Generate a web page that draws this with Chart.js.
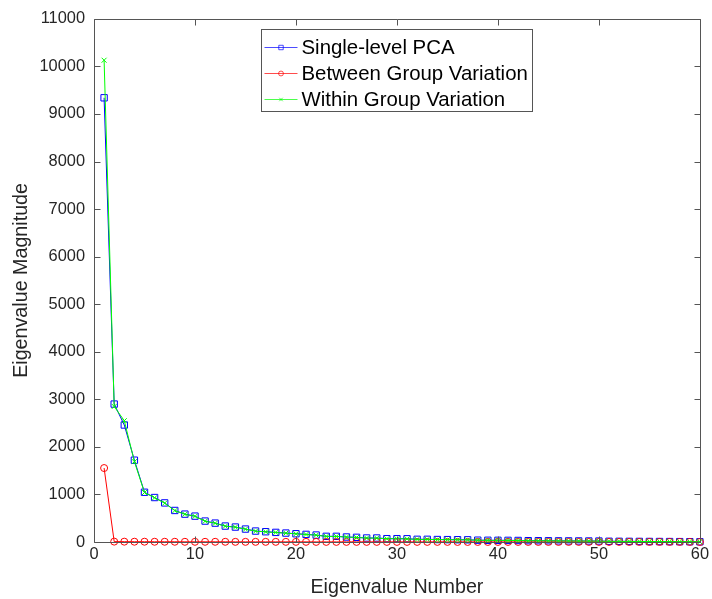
<!DOCTYPE html>
<html>
<head>
<meta charset="utf-8">
<script src="https://cdn.jsdelivr.net/npm/chart.js@4.4.0/dist/chart.umd.min.js"></script>
<style>
    html, body { margin: 0; padding: 0; background: #fff; }
</style>
</head>
<body>
<canvas id="myChart" width="712" height="599"></canvas>
<script>
// eigenvalue index
const eigNumbers = [1, 2, 3, 4, 5, 6, 7, 8, 9, 10, 11, 12, 13, 14, 15, 16, 17, 18, 19, 20,
    21, 22, 23, 24, 25, 26, 27, 28, 29, 30, 31, 32, 33, 34, 35, 36, 37, 38, 39, 40,
    41, 42, 43, 44, 45, 46, 47, 48, 49, 50, 51, 52, 53, 54, 55, 56, 57, 58, 59, 60];

// single-level PCA
const pcaValues = [9340, 2900, 2460, 1720, 1046, 935, 822, 663, 586, 544,
    440, 397, 335, 314, 272, 230, 216, 202, 188, 174,
    160, 146, 119, 119, 105, 98, 84, 84, 70, 70,
    68, 56, 56, 52, 50, 48, 46, 38, 36, 35,
    34, 32, 28, 27, 26, 24, 23, 22, 21, 20,
    15, 14, 13, 12, 11, 10, 9, 8, 7, 5];

// between group
const betweenValues = [1555, 8, 7, 6, 6, 5, 5, 5, 4, 4,
    4, 4, 4, 3, 3, 3, 3, 3, 3, 3,
    3, 2, 2, 2, 2, 2, 2, 2, 2, 2,
    2, 2, 2, 2, 2, 1, 1, 1, 1, 1,
    1, 1, 1, 1, 1, 1, 1, 1, 1, 1,
    1, 1, 1, 1, 1, 1, 1, 1, 1, 0];

// within group
const withinValues = [10130, 2850, 2550, 1690, 1040, 930, 818, 660, 583, 540,
    437, 394, 333, 312, 270, 228, 214, 200, 186, 172,
    158, 144, 118, 117, 104, 96, 83, 82, 69, 69,
    66, 55, 55, 51, 49, 47, 45, 37, 35, 34,
    33, 31, 27, 26, 25, 23, 22, 21, 20, 19,
    14, 13, 12, 11, 10, 9, 8, 7, 6, 5];

const xTicks = [0, 10, 20, 30, 40, 50, 60];
const yTicks = [0, 1000, 2000, 3000, 4000, 5000, 6000, 7000, 8000, 9000, 10000, 11000];

const axisColor = '#262626';
const fontName = '"Liberation Sans", Arial, sans-serif';

function toPoints(vals) {
    return eigNumbers.map((n, i) => ({ x: n, y: vals[i] }));
}

// box + inner ticks + legend like matlab
const matlabAxes = {
    id: 'matlabAxes',
    afterDatasetsDraw(chart) {
        const ctx = chart.ctx;
        const a = chart.chartArea;
        const xs = chart.scales.x, ys = chart.scales.y;
        const L = Math.round(a.left) + 0.5, R = Math.round(a.right) + 0.5;
        const T = Math.round(a.top) + 0.5, B = Math.round(a.bottom) + 0.5;
        ctx.save();
        ctx.strokeStyle = '#555';
        ctx.lineWidth = 1;
        ctx.beginPath();
        ctx.rect(L, T, R - L, B - T);
        xs.ticks.forEach(t => {
            const px = Math.round(xs.getPixelForValue(t.value)) + 0.5;
            ctx.moveTo(px, B); ctx.lineTo(px, B - 6);
            ctx.moveTo(px, T); ctx.lineTo(px, T + 6);
        });
        ys.ticks.forEach(t => {
            const py = Math.round(ys.getPixelForValue(t.value)) + 0.5;
            ctx.moveTo(L, py); ctx.lineTo(L + 6, py);
            ctx.moveTo(R, py); ctx.lineTo(R - 6, py);
        });
        ctx.stroke();

        // legend
        const sets = chart.data.datasets;
        ctx.font = '20.4px ' + fontName;
        let maxW = 0;
        sets.forEach(d => { maxW = Math.max(maxW, ctx.measureText(d.label).width); });
        const boxW = Math.round(40 + maxW + 5);
        const boxH = 17 + 26 * (sets.length - 1) + 13;
        const bx = Math.round((a.left + a.right) / 2 - boxW / 2) + 0.5;
        const by = Math.round(a.top + 10) + 0.5;
        ctx.fillStyle = '#fff';
        ctx.fillRect(bx, by, boxW, boxH);
        ctx.strokeStyle = '#555';
        ctx.strokeRect(bx, by, boxW, boxH);
        sets.forEach((d, i) => {
            const cy = Math.round(by + 17 + 26 * i) + 0.5;
            ctx.strokeStyle = d.borderColor;
            ctx.globalAlpha = 0.7;
            ctx.lineWidth = 1;
            ctx.beginPath();
            ctx.moveTo(bx + 3, cy); ctx.lineTo(bx + 36, cy);
            ctx.stroke();
            ctx.fillStyle = 'rgba(0,0,0,0)';
            Chart.helpers.drawPoint(ctx, {
                pointStyle: d.pointStyle, radius: d.pointRadius * 0.7, rotation: 0, borderWidth: 1
            }, bx + 19.5, cy);
            ctx.globalAlpha = 1;
            ctx.fillStyle = '#000';
            ctx.textBaseline = 'middle';
            ctx.textAlign = 'left';
            ctx.fillText(d.label, bx + 40, cy + 1);
        });
        ctx.restore();
    }
};

new Chart('myChart', {
    type: 'line',
    data: {
        datasets: [{
            label: 'Single-level PCA',
            data: toPoints(pcaValues),
            borderColor: 'rgb(0,0,255)',
            pointBorderColor: 'rgb(0,0,255)',
            pointBackgroundColor: 'rgba(0,0,0,0)',
            pointStyle: 'rect',
            pointRadius: 4.5,
            borderWidth: 1,
            order: 3,
            clip: false
        }, {
            label: 'Between Group Variation',
            data: toPoints(betweenValues),
            borderColor: 'rgb(255,0,0)',
            pointBorderColor: 'rgb(255,0,0)',
            pointBackgroundColor: 'rgba(0,0,0,0)',
            pointStyle: 'circle',
            pointRadius: 3.5,
            borderWidth: 1,
            order: 2,
            clip: false
        }, {
            label: 'Within Group Variation',
            data: toPoints(withinValues),
            borderColor: 'rgb(0,255,0)',
            pointBorderColor: 'rgb(0,255,0)',
            pointBackgroundColor: 'rgba(0,0,0,0)',
            pointStyle: 'crossRot',
            pointRadius: 3.5,
            borderWidth: 1,
            order: 1,
            clip: false
        }]
    },
    options: {
        responsive: false,
        animation: false,
        devicePixelRatio: 1,
        layout: { padding: { top: 17, right: 7, left: 0, bottom: 0 } },
        plugins: { legend: { display: false }, tooltip: { enabled: false } },
        scales: {
            x: {
                type: 'linear',
                min: 0,
                max: 60,
                afterBuildTicks: s => { s.ticks = xTicks.map(v => ({ value: v })); },
                afterFit: s => { s.height = 57; },
                grid: { display: false, drawTicks: false },
                border: { display: false },
                ticks: { color: axisColor, padding: 3, font: { family: fontName, size: 16.4 } },
                title: {
                    display: true,
                    text: 'Eigenvalue Number',
                    color: axisColor,
                    padding: { top: 0, bottom: 0 },
                    font: { family: fontName, size: 19.7 }
                }
            },
            y: {
                type: 'linear',
                min: 0,
                max: 11000,
                afterBuildTicks: s => { s.ticks = yTicks.map(v => ({ value: v })); },
                afterFit: s => { s.width = 94; },
                grid: { display: false, drawTicks: false },
                border: { display: false },
                ticks: {
                    color: axisColor, padding: 9,
                    font: { family: fontName, size: 16.4 },
                    callback: v => String(v)
                },
                title: {
                    display: true,
                    text: 'Eigenvalue Magnitude',
                    color: axisColor,
                    padding: { top: 10, bottom: 0 },
                    font: { family: fontName, size: 19.7 }
                }
            }
        }
    },
    plugins: [matlabAxes]
});
</script>
</body>
</html>
